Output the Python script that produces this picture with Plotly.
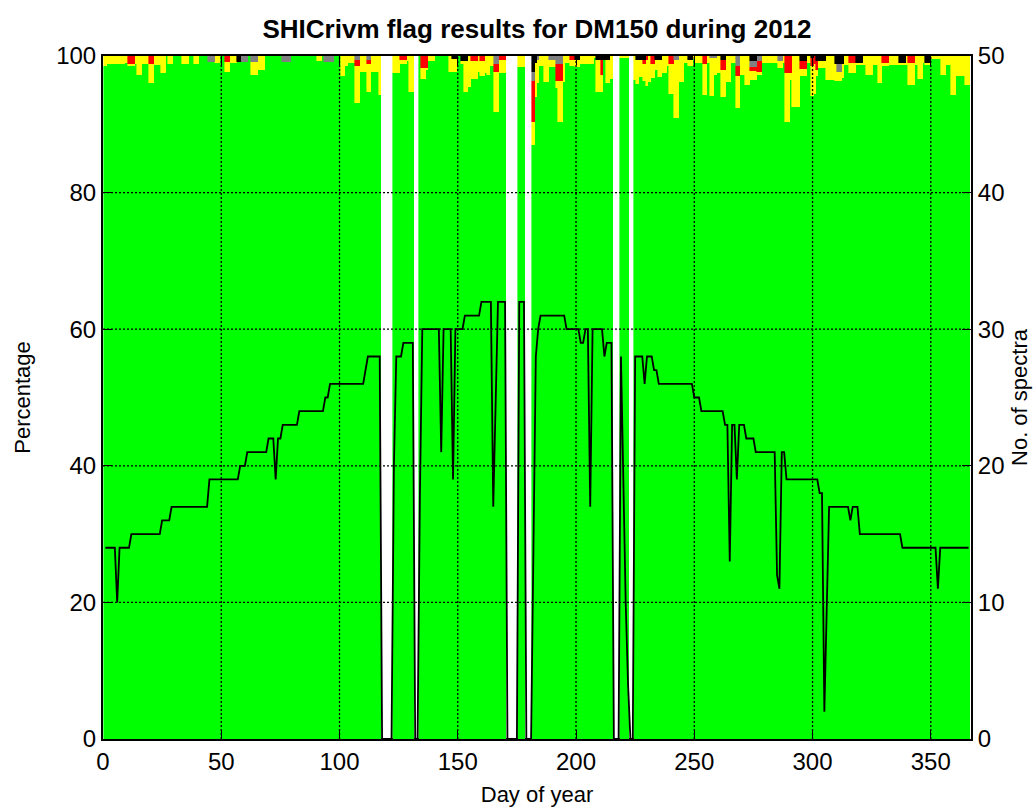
import plotly.graph_objects as go

# ---------------- data ----------------
days = list(range(1, 367))

# number of spectra per day (right axis)
spectra = [
    14, 14, 14, 14, 14, 10, 14, 14, 14, 14,
    14, 15, 15, 15, 15, 15, 15, 15, 15, 15,
    15, 15, 15, 15, 16, 16, 16, 16, 17, 17,
    17, 17, 17, 17, 17, 17, 17, 17, 17, 17,
    17, 17, 17, 17, 19, 19, 19, 19, 19, 19,
    19, 19, 19, 19, 19, 19, 19, 20, 20, 20,
    21, 21, 21, 21, 21, 21, 21, 21, 21, 22,
    22, 22, 19, 22, 22, 23, 23, 23, 23, 23,
    23, 23, 24, 24, 24, 24, 24, 24, 24, 24,
    24, 24, 24, 25, 25, 26, 26, 26, 26, 26,
    26, 26, 26, 26, 26, 26, 26, 26, 26, 26,
    27, 28, 28, 28, 28, 28, 28, 0, 0, 0,
    0, 0, 20, 28, 28, 28, 29, 29, 29, 29,
    29, 0, 0, 18, 30, 30, 30, 30, 30, 30,
    30, 30, 21, 30, 30, 30, 30, 19, 30, 30,
    30, 30, 31, 31, 31, 31, 31, 31, 31, 32,
    32, 32, 32, 32, 17, 24, 32, 32, 32, 32,
    0, 0, 0, 0, 0, 32, 32, 32, 0, 0,
    0, 14, 28, 30, 31, 31, 31, 31, 31, 31,
    31, 31, 31, 31, 31, 30, 30, 30, 30, 30,
    30, 29, 29, 30, 30, 17, 30, 30, 30, 30,
    30, 28, 29, 29, 29, 0, 0, 0, 28, 19,
    10, 4, 0, 0, 28, 28, 28, 28, 26, 28,
    28, 28, 27, 27, 26, 26, 26, 26, 26, 26,
    26, 26, 26, 26, 26, 26, 26, 26, 26, 25,
    25, 25, 24, 24, 24, 24, 24, 24, 24, 24,
    24, 24, 23, 23, 13, 23, 23, 19, 23, 23,
    23, 22, 22, 22, 22, 21, 21, 21, 21, 21,
    21, 21, 21, 21, 12, 11, 21, 21, 19, 19,
    19, 19, 19, 19, 19, 19, 19, 19, 19, 19,
    19, 19, 18, 18, 2, 10, 17, 17, 17, 17,
    17, 17, 17, 17, 17, 16, 17, 17, 17, 15,
    15, 15, 15, 15, 15, 15, 15, 15, 15, 15,
    15, 15, 15, 15, 15, 15, 15, 14, 14, 14,
    14, 14, 14, 14, 14, 14, 14, 14, 14, 14,
    14, 14, 11, 14, 14, 14, 14, 14, 14, 14,
    14, 14, 14, 14, 14, 14,
]

# yellow flag percentage per day
yellow_pct = [
    1.4, 1.2, 1.2, 1.2, 1.2, 1.2, 1.2, 1.2, 1.2, 1.0,
    0.2, 0.2, 0.2, 1.2, 2.8, 2.8, 1.2, 1.2, 1.2, 2.8,
    2.8, 1.3, 1.3, 1.3, 2.5, 2.5, 0, 1.2, 1.2, 0,
    0, 0, 0, 1.2, 1.2, 1.2, 0, 0, 1.2, 1.2,
    0, 0, 0, 0, 0, 0, 0, 1.0, 1.0, 0,
    0, 1.4, 1.4, 1.0, 1.0, 1.0, 0, 0, 0, 0,
    0, 0, 1.9, 1.9, 1.9, 2.0, 2.0, 2.0, 0, 0,
    0, 0, 0, 0, 0, 0, 0, 0, 0, 0,
    0, 0, 0, 0, 0, 0, 0, 0, 0, 0,
    0.8, 0.8, 0, 0, 0, 0, 0, 0, 0, 0,
    3.0, 3.0, 1.5, 1.0, 1.0, 1.0, 5.5, 5.5, 2.3, 2.3,
    2.3, 4.0, 4.0, 2.3, 2.3, 2.3, 5.7, 0, 0, 0,
    0, 0, 2.5, 2.5, 2.5, 0.6, 0.6, 0.6, 0.8, 5.2,
    5.2, 0, 0, 0, 1.5, 1.5, 0.3, 0.8, 0.8, 0.8,
    0, 0, 0, 0, 0, 0, 2.3, 1.8, 1.8, 0,
    0, 0.5, 4.5, 4.5, 4.5, 2.7, 2.7, 2.7, 2.3, 2.3,
    2.3, 2.5, 2.8, 1.5, 1.5, 5.9, 5.9, 1.9, 1.9, 1.9,
    0, 0, 0, 0, 0, 1.6, 1.6, 1.6, 0, 0,
    0, 3.4, 5.0, 3.4, 1.5, 1.5, 3.8, 3.8, 1.0, 1.0,
    1.0, 1.0, 6.0, 6.0, 3.8, 1.0, 1.0, 0.8, 0.8, 1.0,
    1.0, 1.2, 1.2, 1.2, 1.2, 1.2, 1.2, 0.3, 4.6, 4.6,
    2.5, 0, 3.4, 3.4, 3.4, 0, 0, 0, 0.3, 0.3,
    0.3, 0.3, 0, 0, 3.5, 3.5, 2.5, 2.5, 2.5, 3.8,
    3.8, 2.0, 2.0, 1.5, 2.5, 2.5, 2.5, 2.5, 1.5, 4.3,
    4.3, 8.5, 8.5, 3.8, 3.8, 1.0, 1.0, 0.8, 0.8, 0.5,
    1.0, 1.0, 1.0, 4.5, 4.5, 1.0, 5.5, 5.5, 2.5, 2.5,
    2.5, 4.0, 4.0, 3.8, 3.8, 1.0, 1.0, 4.6, 4.6, 2.8,
    2.8, 4.3, 4.3, 1.3, 1.3, 1.3, 0.5, 0.5, 1.0, 1.0,
    1.0, 1.0, 1.0, 1.0, 1.0, 1.0, 1.0, 1.0, 7.1, 7.1,
    1.0, 7.4, 7.4, 7.4, 1.1, 1.1, 1.1, 1.0, 1.0, 4.3,
    4.3, 1.0, 1.0, 1.0, 1.0, 3.5, 3.5, 3.5, 3.5, 2.5,
    1.3, 1.3, 2.0, 1.3, 1.3, 1.5, 1.5, 1.5, 0.3, 0.3,
    0.3, 1.3, 2.8, 2.8, 2.8, 1.3, 1.3, 4.0, 4.0, 0.5,
    0.5, 0.5, 1.3, 1.3, 1.3, 1.3, 0.3, 0.3, 0.3, 1.3,
    3.2, 3.2, 3.2, 1.3, 3.3, 3.3, 1.0, 0.3, 0.3, 0.5,
    0.5, 0.5, 0.5, 0.5, 2.8, 2.8, 1.3, 1.3, 5.7, 5.7,
    3.0, 3.0, 3.0, 3.0, 4.2, 4.2,
]

# sparse flag percentages (day -> %)
red_pct = {
    11: 1.2, 12: 1.2, 13: 1.2, 20: 1.2, 21: 1.2, 52: 0.9, 53: 0.9,
    107: 0.8, 108: 0.8, 112: 0.6, 113: 0.6, 126: 0.6, 127: 0.6, 128: 0.6,
    135: 1.8, 136: 1.8, 137: 1.8, 156: 0.7, 157: 0.7, 158: 0.7, 160: 0.7,
    161: 0.7, 166: 1.2, 167: 1.2, 168: 0.6, 169: 0.6, 170: 0.6, 182: 5.9,
    192: 2.6, 193: 2.6, 194: 2.6, 198: 0.6, 199: 0.6, 211: 2.2, 229: 0.6,
    230: 0.6, 232: 1.2, 233: 1.2, 240: 1.2, 241: 1.2, 254: 1.2, 255: 1.2,
    262: 1.4, 263: 1.4, 268: 1.5, 269: 1.5, 274: 0.6, 275: 0.6, 276: 0.6,
    277: 1.5, 278: 1.5, 289: 2.5, 290: 2.5, 291: 2.5, 295: 1.1, 296: 1.1,
    297: 1.1, 300: 1.2, 301: 1.2, 302: 1.2, 316: 1.0, 317: 1.0, 318: 1.0,
    330: 1.0, 331: 1.0, 332: 1.0, 341: 1.0, 342: 1.0, 343: 1.0,
}
gray_pct = {
    45: 0.9, 46: 0.9, 47: 0.9, 59: 0.9, 60: 0.9, 61: 0.9, 63: 0.9, 64: 0.9,
    65: 0.9, 76: 0.9, 77: 0.9, 78: 0.9, 79: 0.9, 94: 0.9, 95: 0.9, 96: 0.9,
    97: 0.9, 107: 0.6, 108: 0.6, 112: 0.6, 113: 0.6, 166: 1.1, 167: 1.1,
    182: 1.3, 184: 0.6, 189: 0.6, 190: 0.6, 191: 0.6, 192: 1.1, 193: 1.1,
    194: 1.1, 242: 0.6, 243: 0.6, 257: 0.3, 258: 0.3, 259: 0.3, 268: 1.5,
    269: 1.5, 274: 0.8, 275: 0.8, 276: 0.8, 277: 0.8, 278: 0.8, 286: 0.8,
    287: 0.8, 311: 1.1, 312: 1.1,
}
black_pct = {
    57: 0.9, 58: 0.9, 148: 0.5, 149: 0.5, 152: 0.7, 153: 0.7, 154: 0.7,
    182: 2.4, 183: 1.0, 200: 0.6, 201: 0.6, 209: 0.6, 210: 0.6, 211: 0.6,
    212: 0.6, 213: 0.6, 214: 0.6, 226: 0.6, 227: 0.6, 228: 0.6, 229: 0.6,
    234: 0.6, 235: 0.6, 236: 0.6, 248: 0.6, 249: 0.6, 262: 0.6, 263: 0.6,
    274: 0.8, 275: 0.8, 276: 0.8, 295: 0.8, 296: 0.8, 297: 0.8, 300: 0.3,
    302: 0.8, 303: 0.8, 304: 0.8, 305: 0.8, 310: 1.2, 311: 1.2, 312: 1.2,
    313: 1.2, 319: 1.0, 320: 1.0, 321: 1.0, 337: 1.0, 338: 1.0, 339: 1.0,
    348: 1.0, 349: 1.0,
}

x_ticks = [0, 50, 100, 150, 200, 250, 300, 350]
y_ticks = [0, 20, 40, 60, 80, 100]
y2_ticks = [0, 10, 20, 30, 40, 50]

assert len(spectra) == 366 and len(yellow_pct) == 366

# ---------------- build stacked segments ----------------
has = [s > 0 for s in spectra]
yellow = [y if h else 0 for y, h in zip(yellow_pct, has)]
red = [red_pct.get(d, 0.0) if h else 0 for d, h in zip(days, has)]
gray = [gray_pct.get(d, 0.0) if h else 0 for d, h in zip(days, has)]
black = [black_pct.get(d, 0.0) if h else 0 for d, h in zip(days, has)]
green = [(100 - y - r - g - b) if h else 0
         for y, r, g, b, h in zip(yellow, red, gray, black, has)]

FONT = "Arial, Liberation Sans, Helvetica, sans-serif"

fig = go.Figure()
for vals, col in [(green, "#00FF00"), (yellow, "#FFFF00"), (red, "#FF0000"),
                  (gray, "#808080"), (black, "#000000")]:
    fig.add_trace(go.Bar(x=days, y=vals, width=1, marker=dict(color=col, line=dict(width=0.6, color=col)),
                         showlegend=False, hoverinfo="skip"))

fig.add_trace(go.Scatter(x=days, y=spectra, mode="lines", yaxis="y2",
                         line=dict(color="black", width=1.8), showlegend=False))

# dotted grid drawn above the bars (as in the original)
shapes = []
for v in x_ticks[1:]:
    shapes.append(dict(type="line", xref="x", yref="paper", x0=v, x1=v, y0=0, y1=1,
                       line=dict(color="black", width=1.3, dash="2px,2px"), layer="above"))
for v in y_ticks[1:-1]:
    shapes.append(dict(type="line", xref="paper", yref="y", x0=0, x1=1, y0=v, y1=v,
                       line=dict(color="black", width=1.3, dash="2px,2px"), layer="above"))

axis_common = dict(showgrid=False, zeroline=False, showline=True, linecolor="black",
                   linewidth=2, ticks="inside", ticklen=9, tickwidth=1.3, automargin=False,
                   tickcolor="black", tickfont=dict(family=FONT, size=24, color="black"))

fig.update_layout(
    width=1035, height=809,
    margin=dict(l=103, r=64, t=56, b=70),
    paper_bgcolor="white", plot_bgcolor="white",
    barmode="stack", bargap=0,
    showlegend=False,
    shapes=shapes,
    title=dict(text="<b>SHICrivm flag results for DM150 during 2012</b>",
               x=0.5, xref="paper", xanchor="center",
               y=1 - 29 / 809, yref="container", yanchor="middle",
               font=dict(family=FONT, size=26, color="black")),
    xaxis=dict(range=[0, 367], tickvals=x_ticks, mirror="ticks",
               title=dict(text="Day of year", font=dict(family=FONT, size=22, color="black"), standoff=13),
               **axis_common),
    yaxis=dict(range=[0, 100], tickvals=y_ticks,
               title=dict(text="Percentage", font=dict(family=FONT, size=22, color="black"), standoff=19),
               **axis_common),
    yaxis2=dict(range=[0, 50], tickvals=y2_ticks, overlaying="y", side="right",
                title=dict(text="No. of spectra", font=dict(family=FONT, size=22, color="black"), standoff=8),
                **axis_common),
)

fig.write_html("out.html")
